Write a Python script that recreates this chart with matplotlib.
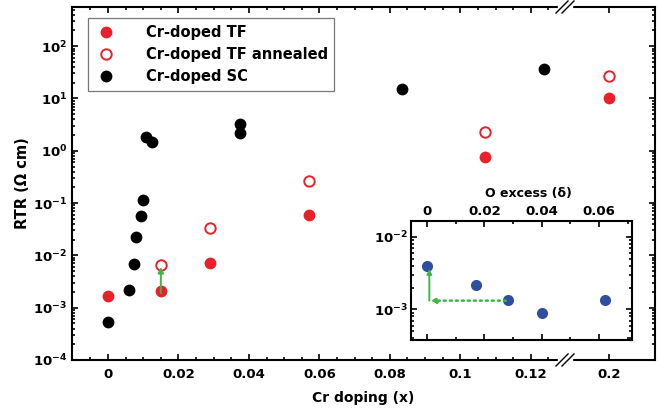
import numpy as np
import matplotlib
matplotlib.use('Agg')
import matplotlib.pyplot as plt
from matplotlib.ticker import FixedLocator, NullFormatter, FixedFormatter

plt.rcParams['font.family'] = 'DejaVu Sans'
plt.rcParams['font.weight'] = 'bold'
plt.rcParams['mathtext.default'] = 'bf'

# Cr-doped thin films (as grown / annealed)
tf_x = [0.0, 0.015, 0.029, 0.057, 0.107, 0.2]
tf_rtr = [1.65e-3, 2.1e-3, 7.0e-3, 0.06, 0.75, 10.0]
tf_ann_x = [0.015, 0.029, 0.057, 0.107, 0.2]
tf_ann_rtr = [6.5e-3, 0.034, 0.27, 2.3, 27.0]

# Cr-doped single crystals
sc_x = [0.0, 0.006, 0.0075, 0.008, 0.0094, 0.0099, 0.0107, 0.0124,
        0.0376, 0.0376, 0.0834, 0.1238]
sc_rtr = [5.4e-4, 2.15e-3, 6.7e-3, 0.022, 0.057, 0.115, 1.85, 1.5,
          3.3, 2.2, 15.0, 37.0]

# inset: undoped samples vs oxygen excess
o_delta = [0.0, 0.017, 0.0284, 0.040, 0.0622]
o_rtr = [3.9e-3, 2.15e-3, 1.33e-3, 8.8e-4, 1.34e-3]

red = '#e8202a'
blue = '#2f4f9e'
green = '#3db54a'


def log_minor(lo, hi):
    return [m * 10.0 ** e for e in range(lo, hi) for m in range(2, 10)]


fig = plt.figure(figsize=(6.59, 4.12), dpi=100)
bot, top = 1 - 360 / 412, 1 - 7 / 412
xl, xb, xr = 72 / 659, 565 / 659, 655 / 659
ax1 = fig.add_axes([xl, bot, xb - xl, top - bot])
ax2 = fig.add_axes([xb, bot, xr - xb, top - bot], sharey=ax1)

ms = 8.5
for ax in (ax1, ax2):
    ax.plot(tf_x, tf_rtr, 'o', color=red, ms=ms, mec='none', label='Cr-doped TF')
    ax.plot(tf_ann_x, tf_ann_rtr, 'o', mfc='white', mec=red, mew=1.4, ms=ms - 1,
            label='Cr-doped TF annealed')
    ax.plot(sc_x, sc_rtr, 'o', color='black', ms=ms, mec='none', label='Cr-doped SC')
    ax.set_yscale('log')
    for s in ax.spines.values():
        s.set_linewidth(1.5)
    ax.tick_params(which='both', direction='in', top=True, right=True, width=1.2)
    ax.tick_params(which='major', length=4, labelsize=9.5)
    ax.tick_params(which='minor', length=2.5)
    ax.tick_params(axis='x', pad=6)

ax1.set_ylim(1e-4, 5.6e2)
ax1.set_xlim(-0.0102, 0.1297)
ax2.set_xlim(0.1875, 0.2131)

ax1.xaxis.set_major_locator(FixedLocator([0, 0.02, 0.04, 0.06, 0.08, 0.1, 0.12]))
ax1.xaxis.set_major_formatter(FixedFormatter(['0', '0.02', '0.04', '0.06', '0.08', '0.1', '0.12']))
ax1.xaxis.set_minor_locator(FixedLocator(np.arange(-0.005, 0.13, 0.005)))
ax2.xaxis.set_major_locator(FixedLocator([0.2]))
ax2.xaxis.set_major_formatter(FixedFormatter(['0.2']))
ax2.xaxis.set_minor_locator(FixedLocator([]))

ax1.yaxis.set_major_locator(FixedLocator([10.0 ** e for e in range(-4, 3)]))
ax1.yaxis.set_minor_locator(FixedLocator(log_minor(-4, 3)))
ax1.yaxis.set_minor_formatter(NullFormatter())

ax1.spines['right'].set_visible(False)
ax1.tick_params(which='both', right=False)
ax2.spines['left'].set_visible(False)
ax2.tick_params(which='both', left=False, labelleft=False)

ax1.set_ylabel('RTR (Ω cm)', fontsize=10.5, fontweight='bold', labelpad=2)
fig.text((xl + xr) / 2, 1 - 398 / 412, 'Cr doping (x)', ha='center', va='center',
         fontsize=10, fontweight='bold')

# annealing arrow
ax1.annotate('', xy=(0.015, 6.0e-3), xytext=(0.015, 1.9e-3),
             arrowprops=dict(arrowstyle='-|>', color=green, lw=1.4,
                             mutation_scale=8, shrinkA=0, shrinkB=0))

# axis break marks
for yb in (top, bot):
    fig.patches.append(plt.Rectangle((xb - 7 / 659, yb - 2 / 412), 14 / 659, 4 / 412,
                                     transform=fig.transFigure, color='white', zorder=5))
    for dx in (-3, 3):
        fig.lines.append(plt.Line2D([xb + (dx - 6) / 659, xb + (dx + 6) / 659],
                                    [yb - 6 / 412, yb + 6 / 412],
                                    transform=fig.transFigure, color='black', lw=1, zorder=6))

leg = ax1.legend(loc='upper left', bbox_to_anchor=(0.0325, 0.968), fontsize=10.5,
                 frameon=True, fancybox=False, edgecolor='#555555', handletextpad=1.9,
                 borderpad=0.45, labelspacing=0.5, handlelength=1.6, borderaxespad=0)
leg.get_frame().set_linewidth(0.9)
for t in leg.get_texts():
    t.set_fontweight('bold')

# inset
ins = fig.add_axes([411 / 659, 1 - 340 / 412, (631.7 - 411) / 659, (340 - 221) / 412])
ins.plot(o_delta, o_rtr, 'o', color=blue, ms=8, mec='none')
ins.set_yscale('log')
ins.set_xlim(-0.0056, 0.0714)
ins.set_ylim(3.8e-4, 1.64e-2)
ins.xaxis.set_major_locator(FixedLocator([0, 0.02, 0.04, 0.06]))
ins.xaxis.set_major_formatter(FixedFormatter(['0', '0.02', '0.04', '0.06']))
ins.xaxis.set_minor_locator(FixedLocator([0.01, 0.03, 0.05, 0.07]))
ins.yaxis.set_major_locator(FixedLocator([1e-3, 1e-2]))
ins.yaxis.set_minor_locator(FixedLocator(log_minor(-4, -1)))
ins.yaxis.set_minor_formatter(NullFormatter())
ins.xaxis.set_label_position('top')
ins.set_xlabel('O excess (δ)', fontsize=9, fontweight='bold')
ins.xaxis.set_label_coords(0.53, 1.2)
for s in ins.spines.values():
    s.set_linewidth(1.5)
ins.tick_params(which='both', direction='in', top=True, right=True, bottom=True,
                labeltop=True, labelbottom=False, width=1.2)
ins.tick_params(which='major', length=4, labelsize=9.5, pad=2)
ins.tick_params(which='minor', length=2.5)

ins.annotate('', xy=(0.0008, 3.6e-3), xytext=(0.0008, 1.32e-3),
             arrowprops=dict(arrowstyle='-|>', color=green, lw=1.4,
                             mutation_scale=7, shrinkA=0, shrinkB=0))
ins.annotate('', xy=(0.0012, 1.32e-3), xytext=(0.0275, 1.32e-3),
             arrowprops=dict(arrowstyle='-|>', color=green, lw=1.8, ls=(0, (0.8, 1.6)),
                             mutation_scale=7, shrinkA=0, shrinkB=0))

fig.savefig('out.png', dpi=100)
